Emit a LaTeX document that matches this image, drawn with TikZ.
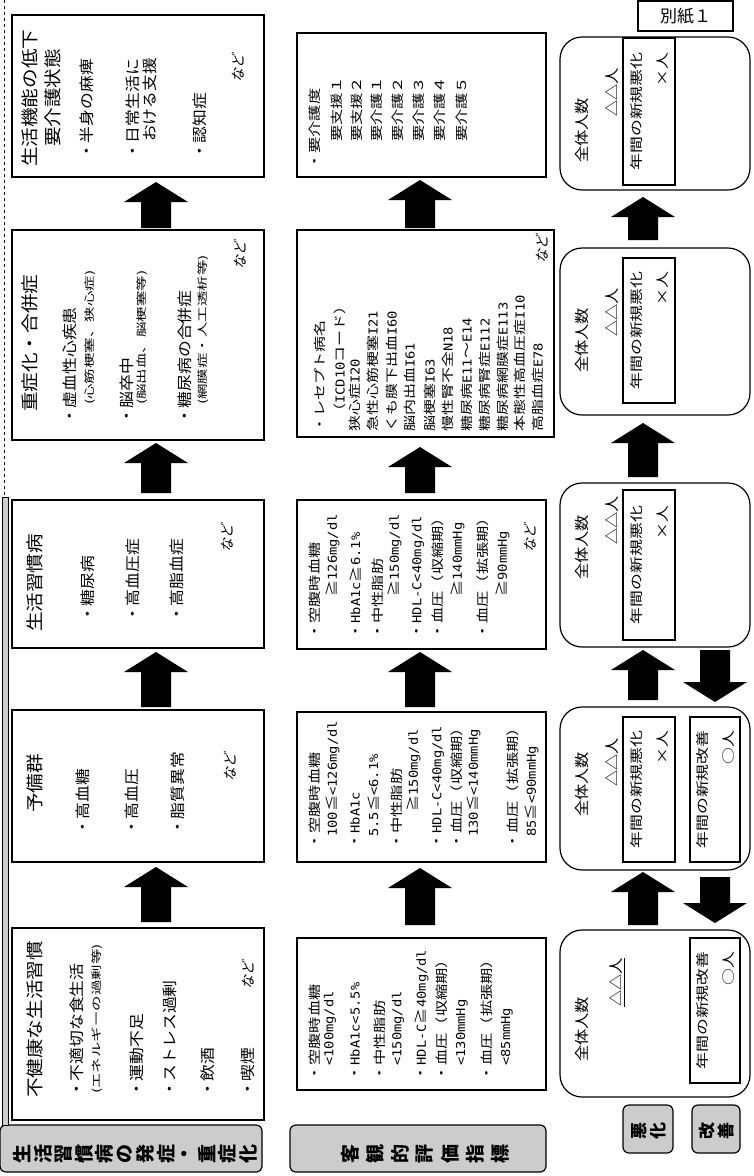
\documentclass[tikz,border=0pt]{standalone}
\usepackage{fontspec}
\setmainfont{Noto Sans CJK JP}
\newfontfamily\jp{Noto Sans CJK JP}
\newfontfamily\jpm[FakeStretch=1.12]{Noto Sans CJK JP}
\newfontfamily\jpw[FakeStretch=1.3]{Noto Sans CJK JP}
\newfontfamily\jpx[FakeStretch=1.5]{Noto Sans CJK JP}
\newfontfamily\jpi[FakeSlant=0.25]{Noto Sans CJK JP}
\newfontfamily\monof[FakeStretch=1.12]{DejaVu Sans Mono}
\newcommand\lt[1]{{\monof\fontsize{12.3}{13}\selectfont #1}}
\newcommand\blkup[3]{\fill (#1,#2) -- (#1+32,#2+20) -- (#1+15,#2+20) -- (#1+15,#3) -- (#1-15,#3) -- (#1-15,#2+20) -- (#1-32,#2+20) -- cycle;}
\newcommand\blkdn[3]{\fill (#1,#3) -- (#1+32,#3-20) -- (#1+15,#3-20) -- (#1+15,#2) -- (#1-15,#2) -- (#1-15,#3-20) -- (#1-32,#3-20) -- cycle;}
\tikzset{
 box/.style={draw, line width=1.2pt, rectangle, inner sep=0pt},
 rbox/.style={draw, line width=1.2pt, rounded corners=22pt, rectangle, inner sep=0pt},
 ibox/.style={draw, line width=1.1pt, rectangle, rotate=90, inner sep=0pt, align=right, font=\jpw\fontsize{13}{26}\selectfont},
 lbl/.style={draw, line width=1.2pt, rounded corners=6pt, fill=gray!40, inner sep=0pt},
 lch/.style={rotate=90, inner sep=0pt, font=\jp\bfseries\fontsize{19}{20}\selectfont},
 rt/.style={rotate=90, anchor=west, inner sep=0pt},
 ttl/.style={rt, font=\jpm\fontsize{17.5}{18}\selectfont},
 itm/.style={rt, font=\jpm\fontsize{15}{16}\selectfont},
 sml/.style={rt, font=\jpx\fontsize{10.3}{11}\selectfont},
 lst/.style={rt, font=\jpw\fontsize{12.5}{13}\selectfont},
 rec/.style={rt, font=\jpw\fontsize{12.3}{13}\selectfont},
 nado/.style={rt, font=\jpi\fontsize{14}{15}\selectfont},
 cnt/.style={rt, font=\jpm\fontsize{14.5}{15}\selectfont},
}
\begin{document}
\begin{tikzpicture}[x=1pt,y=-1pt]
\useasboundingbox (0,0) rectangle (754,1176);
% ---------- row 1 boxes
\node[box, minimum width=252pt, minimum height=192pt] (A) at (138,1024) {};
\node[box, minimum width=252pt, minimum height=152pt] (B) at (138,786) {};
\node[box, minimum width=252pt, minimum height=148pt] (C) at (138,574) {};
\node[box, minimum width=252pt, minimum height=210pt] (D) at (138,335) {};
\node[box, minimum width=252pt, minimum height=162pt] (E) at (138,96) {};
% ---------- row 2 boxes
\node[box, minimum width=249pt, minimum height=152pt] (F) at (421.5,1014) {};
\node[box, minimum width=249pt, minimum height=150pt] (G) at (421.5,787) {};
\node[box, minimum width=249pt, minimum height=149pt] (H) at (421.5,574.5) {};
\node[box, minimum width=257pt, minimum height=207pt] (I) at (425.5,333.5) {};
\node[box, minimum width=249pt, minimum height=144pt] (J) at (421.5,105) {};
% ---------- row 3 boxes
\node[rbox, minimum width=190pt, minimum height=167pt] (K) at (655,1013.5) {};
\node[rbox, minimum width=190pt, minimum height=163pt] (L) at (655,788.5) {};
\node[rbox, minimum width=190pt, minimum height=164pt] (M) at (655,565) {};
\node[rbox, minimum width=190pt, minimum height=167pt] (N) at (655,331.5) {};
\node[rbox, minimum width=190pt, minimum height=153pt] (O) at (655,113.5) {};
% ---------- arrows
\blkup{156}{867}{922}
\blkup{156}{652}{707}
\blkup{156}{443}{493}
\blkup{156}{182}{228}
\blkup{420}{868}{925}
\blkup{420}{652}{707}
\blkup{420}{447}{493}
\blkup{420}{180}{228}
\blkup{643}{872}{925}
\blkdn{715}{877}{923}
\blkup{643}{650}{700}
\blkdn{715}{650}{702}
\blkup{643}{423}{477}
\blkup{643}{197}{240}
% ---------- box A
\node[ttl] (a0) at (35,1098) {不健康な生活習慣};
\node[itm] (a1) at (77,1098) {・不適切な食生活};
\node[sml] (a2) at (97,1094) {(エネルギーの過剰等)};
\node[itm] (a3) at (137,1098) {・運動不足};
\node[itm] (a4) at (170,1098) {・ストレス過剰};
\node[itm] (a5) at (208,1098) {・飲酒};
\node[itm] (a6) at (248,1098) {・喫煙};
\node[nado] (a7) at (248,990) {など};
% ---------- box B
\node[ttl] (b0) at (35,813) {予備群};
\node[itm] (b1) at (83,836) {・高血糖};
\node[itm] (b2) at (132,836) {・高血圧};
\node[itm] (b3) at (178,836) {・脂質異常};
\node[nado] (b4) at (230,782) {など};
% ---------- box C
\node[ttl] (c0) at (35,632) {生活習慣病};
\node[itm] (c1) at (88,623) {・糖尿病};
\node[itm] (c2) at (133,623) {・高血圧症};
\node[itm] (c3) at (177,623) {・高脂血症};
\node[nado] (c4) at (227,553) {など};
% ---------- box D
\node[ttl] (d0) at (30,412) {重症化・合併症};
\node[itm] (d1) at (70,425) {・虚血性心疾患};
\node[sml] (d2) at (90,405) {(心筋梗塞、狭心症)};
\node[itm] (d3) at (127,425) {・脳卒中};
\node[sml] (d4) at (142,405) {(脳出血、脳梗塞等)};
\node[itm] (d5) at (185,425) {・糖尿病の合併症};
\node[sml] (d6) at (203,405) {(網膜症・人工透析等)};
\node[nado] (d7) at (240,270) {など};
% ---------- box E
\node[ttl] (e0) at (30,167) {生活機能の低下};
\node[ttl] (e1) at (53,147) {要介護状態};
\node[itm] (e2) at (87,160) {・半身の麻痺};
\node[itm] (e3) at (133,160) {・日常生活に};
\node[itm] (e4) at (150,142) {おける支援};
\node[itm] (e5) at (200,160) {・認知症};
\node[nado] (e6) at (238,83) {など};
% ---------- box F
\node[lst] (f0) at (315,1082) {・空腹時血糖};
\node[lst] (f1) at (330,1066) {\lt{<100mg/dl}};
\node[lst] (f2) at (355,1082) {・\lt{HbA1c<5.5\%}};
\node[lst] (f3) at (380,1082) {・中性脂肪};
\node[lst] (f4) at (398,1066) {\lt{<150mg/dl}};
\node[lst] (f5) at (422,1082) {・\lt{HDL-C}≧\lt{40mg/dl}};
\node[lst] (f6) at (442,1082) {・血圧（収縮期）};
\node[lst] (f7) at (462,1066) {\lt{<130mmHg}};
\node[lst] (f8) at (487,1082) {・血圧（拡張期）};
\node[lst] (f9) at (507,1066) {\lt{<85mmHg}};
% ---------- box G
\node[lst] (g0) at (315,850) {・空腹時血糖};
\node[lst] (g1) at (333,837) {\lt{100}≦\lt{<126mg/dl}};
\node[lst] (g2) at (355,850) {・\lt{HbA1c}};
\node[lst] (g3) at (373,837) {\lt{5.5}≦\lt{<6.1\%}};
\node[lst] (g4) at (397,850) {・中性脂肪};
\node[lst] (g5) at (414,812) {≧\lt{150mg/dl}};
\node[lst] (g6) at (438,850) {・\lt{HDL-C<40mg/dl}};
\node[lst] (g7) at (457,850) {・血圧（収縮期）};
\node[lst] (g8) at (474,837) {\lt{130}≦\lt{<140mmHg}};
\node[lst] (g9) at (513,850) {・血圧（拡張期）};
\node[lst] (g10) at (532,837) {\lt{85}≦\lt{<90mmHg}};
% ---------- box H
\node[lst] (h0) at (315,640) {・空腹時血糖};
\node[lst] (h1) at (333,597) {≧\lt{126mg/dl}};
\node[lst] (h2) at (355,640) {・\lt{HbA1c}≧\lt{6.1\%}};
\node[lst] (h3) at (378,640) {・中性脂肪};
\node[lst] (h4) at (395,597) {≧\lt{150mg/dl}};
\node[lst] (h5) at (418,640) {・\lt{HDL-C<40mg/dl}};
\node[lst] (h6) at (438,640) {・血圧（収縮期）};
\node[lst] (h7) at (458,597) {≧\lt{140mmHg}};
\node[lst] (h8) at (483,640) {・血圧（拡張期）};
\node[lst] (h9) at (503,597) {≧\lt{90mmHg}};
\node[nado] (h10) at (530,553) {など};
% ---------- box I
\node[rec] (i0) at (320,433) {・レセプト病名};
\node[rec] (i1) at (340,420) {（\lt{ICD10}コード）};
\node[rec] (i2) at (355,432) {狭心症\lt{I20}};
\node[rec] (i3) at (373,432) {急性心筋梗塞\lt{I21}};
\node[rec] (i4) at (392,432) {くも膜下出血\lt{I60}};
\node[rec] (i5) at (410,432) {脳内出血\lt{I61}};
\node[rec] (i6) at (430,432) {脳梗塞\lt{I63}};
\node[rec] (i7) at (448,432) {慢性腎不全\lt{N18}};
\node[rec] (i8) at (467,432) {糖尿病\lt{E11}～\lt{E14}};
\node[rec] (i9) at (485,432) {糖尿病腎症\lt{E112}};
\node[rec] (i10) at (503,432) {糖尿病網膜症\lt{E113}};
\node[rec] (i11) at (520,432) {本態性高血圧症\lt{I10}};
\node[rec] (i12) at (538,432) {高脂血症\lt{E78}};
\node[nado] (i13) at (542,264) {など};
% ---------- box J
\node[lst] (j0) at (315,170) {・要介護度};
\node[lst] (j1) at (337,142) {要支援１};
\node[lst] (j2) at (357,142) {要支援２};
\node[lst] (j3) at (377,142) {要介護１};
\node[lst] (j4) at (398,142) {要介護２};
\node[lst] (j5) at (419,142) {要介護３};
\node[lst] (j6) at (440,142) {要介護４};
\node[lst] (j7) at (462,142) {要介護５};
% ---------- row 3 texts
\node[cnt] (o0) at (582,163) {全体人数};
\node[cnt] (o1) at (612,117) {△△人};
\node[ibox, minimum width=147pt, minimum height=52pt] (o2) at (649,111.5) {年間の新規悪化\\×人};
\node[cnt] (n0) at (582,373) {全体人数};
\node[cnt] (n1) at (612,337) {△△人};
\node[ibox, minimum width=145pt, minimum height=52pt] (n2) at (649,330.5) {年間の新規悪化\\×人};
\node[cnt] (m0) at (582,580) {全体人数};
\node[cnt] (m1) at (612,545) {△△人};
\node[ibox, minimum width=150pt, minimum height=52pt] (m2) at (649,565) {年間の新規悪化\\×人};
\node[cnt] (l0) at (582,817) {全体人数};
\node[cnt] (l1) at (612,787) {△△人};
\node[ibox, minimum width=145pt, minimum height=52pt] (l2) at (649,789.5) {年間の新規悪化\\×人};
\node[ibox, minimum width=145pt, minimum height=50pt] (l3) at (715,789.5) {年間の新規改善\\○人};
\node[cnt] (k0) at (582,1062) {全体人数};
\node[cnt] (k1) at (617,1007) {\underline{△△人}};
\node[ibox, minimum width=145pt, minimum height=50pt] (k2) at (715,1010.5) {年間の新規改善\\○人};
% ---------- labels (vertical text)
\node[lbl, minimum width=262pt, minimum height=47pt] (L1) at (131,1148.5) {};
\foreach \c [count=\i] in {生,活,習,慣,病,の,発,症,・,重,症,化}
  \node[lch] (L1c\i) at ({2+\i*20.5},1154) {\c};
\node[lbl, minimum width=256pt, minimum height=47pt] (L2) at (418,1148.5) {};
\foreach \c [count=\i] in {客,観,的,評,価,指,標}
  \node[lch] (L2c\i) at ({325+\i*25},1154) {\c};
\node[lbl, minimum width=50pt, minimum height=48pt] (L3) at (648,1129) {};
\node[lch, font=\jp\bfseries\fontsize{17}{18}\selectfont] (L3a) at (639,1131) {悪};
\node[lch, font=\jp\bfseries\fontsize{17}{18}\selectfont] (L3b) at (658,1131) {化};
\node[lbl, minimum width=48pt, minimum height=48pt] (L4) at (716,1129) {};
\node[lch, font=\jp\bfseries\fontsize{17}{18}\selectfont] (L4a) at (707,1131) {改};
\node[lch, font=\jp\bfseries\fontsize{17}{18}\selectfont] (L4b) at (726,1131) {善};
\node[draw, line width=1.1pt, minimum width=95pt, minimum height=30pt, inner sep=0pt, font=\jp\fontsize{17}{18}\selectfont] (P) at (685.5,16) {別紙１};
% ---------- left bar
\draw[line width=0.9pt, fill=gray!40] (2.5,497) rectangle (8,1125);
\draw[line width=0.9pt, dashed] (4,0) -- (4,497);
\end{tikzpicture}
\end{document}
